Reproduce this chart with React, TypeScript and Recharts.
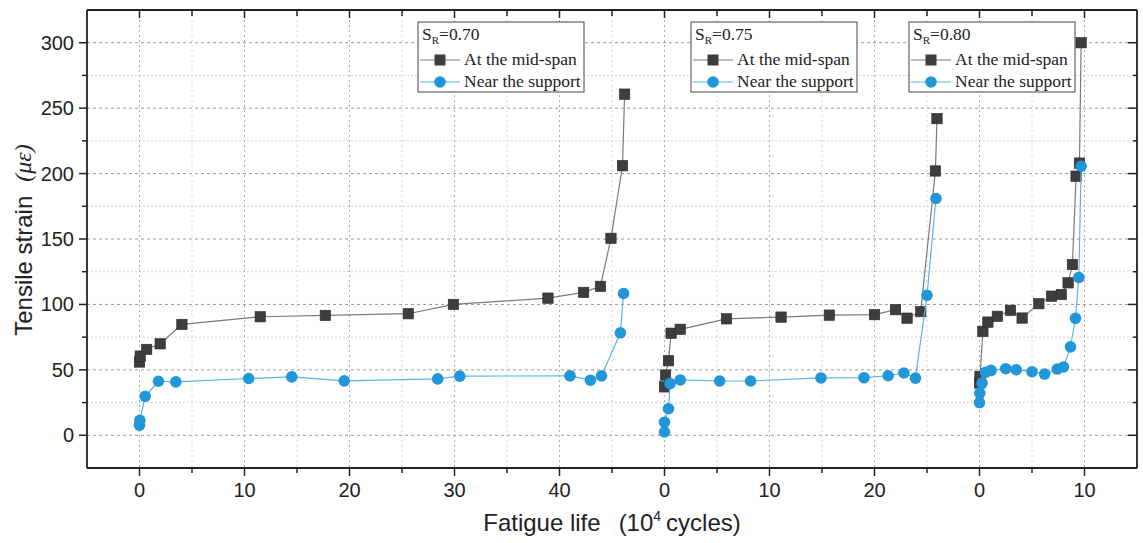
import React from 'react';
import { ScatterChart, Scatter, XAxis, YAxis, CartesianGrid } from 'recharts';

// Fatigue life (10^4 cycles) against tensile strain (με), one group per stress ratio S_R
const stressRatios = ['0.70', '0.75', '0.80'];
// where each group's zero sits on the shared horizontal axis
const panelOffsets = [0, 50, 80];

// S_R = 0.70
const midLife070 = [0, 0.07, 0.68, 1.97, 4.04, 11.5, 17.7, 25.6, 29.9, 38.9, 42.3, 43.9, 44.9, 46.0, 46.2];
const midStrain070 = [56, 60.5, 65.6, 69.9, 84.7, 90.6, 91.6, 92.9, 100, 104.8, 109.2, 113.8, 150.5, 206, 260.7];
const supLife070 = [0, 0.03, 0.54, 1.8, 3.46, 10.4, 14.5, 19.5, 28.4, 30.5, 41.0, 42.95, 44.0, 45.8, 46.1];
const supStrain070 = [7.7, 11.5, 29.8, 41.3, 40.8, 43.4, 44.6, 41.6, 43.1, 45.2, 45.4, 42.1, 45.4, 78.3, 108.4];

// S_R = 0.75
const midLife075 = [0, 0.1, 0.38, 0.63, 1.5, 5.9, 11.1, 15.7, 20.0, 22.0, 23.1, 24.4, 25.8, 25.95];
const midStrain075 = [37, 46, 57, 78, 81, 89, 90.3, 91.8, 92.2, 96, 89.5, 94.5, 202, 242];
const supLife075 = [0, 0, 0.38, 0.53, 1.5, 5.25, 8.2, 14.9, 19.0, 21.3, 22.8, 23.9, 25.0, 25.85];
const supStrain075 = [2.5, 10, 20.3, 39.5, 42.3, 41.5, 41.5, 43.8, 44, 45.5, 47.6, 43.7, 107, 181];

// S_R = 0.80
const midLife080 = [0, 0.05, 0.32, 0.8, 1.7, 2.95, 4.06, 5.65, 6.86, 7.8, 8.44, 8.85, 9.2, 9.52, 9.68];
const midStrain080 = [40, 45, 79.4, 86.5, 90.9, 95.5, 89.6, 100.6, 106.3, 107.6, 116.5, 130.5, 198, 208, 300];
const supLife080 = [0, 0.03, 0.25, 0.57, 1.1, 2.5, 3.5, 5.0, 6.2, 7.4, 8.0, 8.67, 9.14, 9.46, 9.68];
const supStrain080 = [25, 32.2, 39.9, 48.1, 49.6, 50.9, 50.1, 48.6, 46.8, 50.6, 52.2, 67.6, 89.4, 120.6, 205.6];

// tick positions on the shared axes
const xTickValues = [0, 5, 10, 15, 20, 25, 30, 35, 40, 45, 50, 55, 60, 65, 70, 75, 80, 85, 90];
const yTickValues = [0, 25, 50, 75, 100, 125, 150, 175, 200, 225, 250, 275, 300];
const xMajorGrid = [0, 10, 20, 30, 40, 50, 60, 70, 80, 90];
const xMinorGrid = [5, 15, 25, 35, 45, 55, 65, 75, 85];
const yMajorGrid = [0, 50, 100, 150, 200, 250, 300];
const yMinorGrid = [25, 75, 125, 175, 225, 275];

const SANS = '"Liberation Sans", Arial, sans-serif';
const SERIF = '"Liberation Serif", "Times New Roman", serif';
const INK = '#222';
const MID_FILL = '#3d3d3d';
const MID_LINE = '#7a7a7a';
const SUP_FILL = '#2196d9';
const SUP_LINE = '#58b4e8';

type Pt = { x: number; y: number };
const toPoints = (life: number[], strain: number[], offset: number): Pt[] =>
  life.map((l, i) => ({ x: l + offset, y: strain[i] }));

const midSpanSeries = [
  toPoints(midLife070, midStrain070, panelOffsets[0]),
  toPoints(midLife075, midStrain075, panelOffsets[1]),
  toPoints(midLife080, midStrain080, panelOffsets[2]),
];
const supportSeries = [
  toPoints(supLife070, supStrain070, panelOffsets[0]),
  toPoints(supLife075, supStrain075, panelOffsets[1]),
  toPoints(supLife080, supStrain080, panelOffsets[2]),
];

// label each tick with the life counted from its own group's origin
const panelLabel = (v: number) => {
  let off = panelOffsets[0];
  panelOffsets.forEach((o) => {
    if (v >= o) off = o;
  });
  return String(v - off);
};

const BottomTick = (props: any) => {
  const { x, y, payload } = props;
  const v = payload.value;
  const major = v % 10 === 0;
  return (
    <g>
      <line x1={x} x2={x} y1={y} y2={y + (major ? 8 : 5)} stroke={INK} strokeWidth={1.5} />
      {major && (
        <text x={x} y={y + 29} textAnchor="middle" fontSize={20} fontFamily={SANS} fill={INK}>
          {panelLabel(v)}
        </text>
      )}
    </g>
  );
};

const TopTick = (props: any) => {
  const { x, y, payload } = props;
  const major = payload.value % 10 === 0;
  return <line x1={x} x2={x} y1={y} y2={y + (major ? 8 : 6)} stroke={INK} strokeWidth={1.5} />;
};

const LeftTick = (props: any) => {
  const { x, y, payload } = props;
  const v = payload.value;
  const major = v % 50 === 0;
  return (
    <g>
      <line x1={x - (major ? 8 : 5)} x2={x} y1={y} y2={y} stroke={INK} strokeWidth={1.5} />
      {major && (
        <text x={x - 13} y={y + 7} textAnchor="end" fontSize={20} fontFamily={SANS} fill={INK}>
          {v}
        </text>
      )}
    </g>
  );
};

const RightTick = (props: any) => {
  const { x, y, payload } = props;
  const major = payload.value % 50 === 0;
  return <line x1={x} x2={x - (major ? 9 : 4)} y1={y} y2={y} stroke={INK} strokeWidth={1.5} />;
};

const SquareMark = (props: any) => (
  <rect x={props.cx - 5.2} y={props.cy - 5.2} width={10.4} height={10.4} fill={MID_FILL} stroke="#2b2b2b" strokeWidth={0.6} />
);
const CircleMark = (props: any) => <circle cx={props.cx} cy={props.cy} r={5.8} fill={SUP_FILL} />;

const legendLefts = [418, 691, 909];

const LegendBox = ({ left, ratio }: { left: number; ratio: string }) => (
  <g transform={`translate(${left},22)`}>
    <rect x={0} y={0} width={166} height={70} fill="#fff" stroke="#444" strokeWidth={1} />
    <text x={4} y={18} fontSize={17.5} fontFamily={SERIF} fill={INK}>
      S
      <tspan fontSize={11} dy={4}>R</tspan>
      <tspan dy={-4}>=0.{ratio.slice(2)}</tspan>
    </text>
    <line x1={2} x2={42} y1={38} y2={38} stroke={MID_LINE} strokeWidth={1.2} />
    <rect x={16.5} y={32.5} width={11} height={11} fill={MID_FILL} />
    <text x={46} y={43} fontSize={17.5} fontFamily={SERIF} fill={INK}>
      At the mid-span
    </text>
    <line x1={2} x2={42} y1={60} y2={60} stroke={SUP_LINE} strokeWidth={1.2} />
    <circle cx={22} cy={60} r={5.8} fill={SUP_FILL} />
    <text x={46} y={65} fontSize={17.5} fontFamily={SERIF} fill={INK}>
      Near the support
    </text>
  </g>
);

export default function App() {
  return (
    <div style={{ position: 'absolute', left: 0, top: 0, width: 1143, height: 543, background: '#fff' }}>
      <ScatterChart width={1143} height={543} margin={{ top: 0, right: 0, bottom: 0, left: 0 }}>
        <CartesianGrid vertical={false} horizontalValues={yMinorGrid} stroke="#d2d2d2" strokeDasharray="2 2" />
        <CartesianGrid vertical={false} horizontalValues={yMajorGrid} stroke="#9a9a9a" strokeDasharray="3 3" />
        <CartesianGrid horizontal={false} verticalValues={xMinorGrid} stroke="#d6d6d6" strokeDasharray="2 3" />
        <CartesianGrid horizontal={false} verticalValues={xMajorGrid} stroke="#adadad" strokeDasharray="2 3" />
        <XAxis
          type="number"
          dataKey="x"
          domain={[-5, 95]}
          ticks={xTickValues}
          interval={0}
          height={75}
          tickSize={0}
          tickMargin={0}
          tickLine={false}
          tick={<BottomTick />}
          axisLine={{ stroke: INK, strokeWidth: 1.8 }}
          allowDataOverflow
        />
        <XAxis
          xAxisId="top"
          orientation="top"
          type="number"
          dataKey="x"
          domain={[-5, 95]}
          ticks={xTickValues}
          interval={0}
          height={10}
          tickSize={0}
          tickMargin={0}
          tickLine={false}
          tick={<TopTick />}
          axisLine={{ stroke: INK, strokeWidth: 1.8 }}
          allowDataOverflow
        />
        <YAxis
          type="number"
          dataKey="y"
          domain={[-25, 325]}
          ticks={yTickValues}
          interval={0}
          width={87}
          tickSize={0}
          tickMargin={0}
          tickLine={false}
          tick={<LeftTick />}
          axisLine={{ stroke: INK, strokeWidth: 1.8 }}
          allowDataOverflow
        />
        <YAxis
          yAxisId="right"
          orientation="right"
          type="number"
          dataKey="y"
          domain={[-25, 325]}
          ticks={yTickValues}
          interval={0}
          width={6}
          tickSize={0}
          tickMargin={0}
          tickLine={false}
          tick={<RightTick />}
          axisLine={{ stroke: INK, strokeWidth: 1.8 }}
          allowDataOverflow
        />
        {midSpanSeries.map((pts, i) => (
          <Scatter
            key={`mid-${i}`}
            data={pts}
            line={{ stroke: MID_LINE, strokeWidth: 1.2 }}
            lineType="joint"
            shape={<SquareMark />}
            isAnimationActive={false}
          />
        ))}
        {supportSeries.map((pts, i) => (
          <Scatter
            key={`sup-${i}`}
            data={pts}
            line={{ stroke: SUP_LINE, strokeWidth: 1.2 }}
            lineType="joint"
            shape={<CircleMark />}
            isAnimationActive={false}
          />
        ))}
      </ScatterChart>
      <svg
        width={1143}
        height={543}
        style={{ position: 'absolute', left: 0, top: 0, pointerEvents: 'none' }}
      >
        {stressRatios.map((r, i) => (
          <LegendBox key={r} left={legendLefts[i]} ratio={r} />
        ))}
        <text
          x={23}
          y={240}
          transform="rotate(-90 23 240)"
          textAnchor="middle"
          dominantBaseline="central"
          fontSize={24}
          fontFamily={SANS}
          fill={INK}
        >
          Tensile strain
          <tspan dx={14} fontFamily={SERIF} fontStyle="italic">(με)</tspan>
        </text>
        <text x={612} y={531} textAnchor="middle" fontSize={24} fontFamily={SANS} fill={INK}>
          Fatigue life
          <tspan dx={18}>(10</tspan>
          <tspan dy={-10} fontSize={14}>4</tspan>
          <tspan dy={10} dx={5}>cycles)</tspan>
        </text>
      </svg>
    </div>
  );
}
